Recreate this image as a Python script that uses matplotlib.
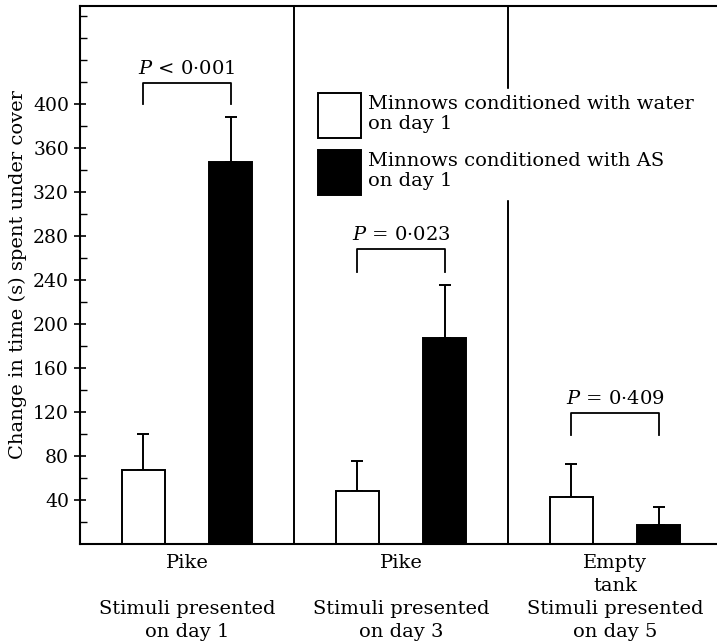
import numpy as np
import matplotlib
matplotlib.use("Agg")
import matplotlib.pyplot as plt

plt.rcParams['font.family'] = ['DejaVu Serif']
plt.rcParams['mathtext.fontset'] = 'dejavuserif'

# data
groups = ["Pike\n\nStimuli presented\non day 1",
          "Pike\n\nStimuli presented\non day 3",
          "Empty\ntank\nStimuli presented\non day 5"]
water_mean = [67, 48, 43]
water_se = [33, 27, 30]
as_mean = [347, 187, 17]
as_se = [41, 48, 17]
p_labels = ["$P$ < 0·001", "$P$ = 0·023", "$P$ = 0·409"]
bracket_top = [419, 268, 119]
bracket_leg = [400, 247, 99]

fig = plt.figure(figsize=(7.17, 6.44), dpi=100)
ax = fig.add_axes([80/717, 100/644, 642/717, 538/644])

x = np.arange(len(groups))
off = 0.205
w = 0.2
b1 = ax.bar(x - off, water_mean, w, color='white', edgecolor='black', lw=1.4,
            label="Minnows conditioned with water\non day 1", zorder=2)
b2 = ax.bar(x + off, as_mean, w, color='black', edgecolor='black', lw=1.4,
            label="Minnows conditioned with AS\non day 1", zorder=2)
ax.errorbar(x - off, water_mean, yerr=[np.zeros(3), water_se], fmt='none',
            ecolor='black', elinewidth=1.4, capsize=4, capthick=1.4, zorder=1)
ax.errorbar(x + off, as_mean, yerr=[np.zeros(3), as_se], fmt='none',
            ecolor='black', elinewidth=1.4, capsize=4, capthick=1.4, zorder=1)

# significance brackets
for i in range(len(groups)):
    xl, xr = x[i] - off, x[i] + off
    ax.plot([xl, xl, xr, xr], [bracket_leg[i], bracket_top[i], bracket_top[i], bracket_leg[i]],
            color='black', lw=1.3)
    ax.text(x[i], bracket_top[i] + 5, p_labels[i], ha='center', va='bottom', fontsize=14)

for d in [0.5, 1.5]:
    ax.axvline(d, color='black', lw=1.4, zorder=0)

ax.set_xlim(-0.5, 2.5)
ax.set_ylim(0, 489)
ax.set_yticks(np.arange(40, 401, 40))
ax.set_yticks(np.arange(20, 481, 20), minor=True)
ax.tick_params(axis='y', which='major', direction='inout', length=9, width=1.2, labelsize=13.5)
ax.tick_params(axis='y', which='minor', direction='in', length=5, width=1)
ax.set_xticks(x)
ax.set_xticklabels(groups, fontsize=14, linespacing=1.36)
ax.tick_params(axis='x', length=0, pad=7)
for s in ax.spines.values():
    s.set_linewidth(1.5)
ax.set_ylabel("Change in time (s) spent under cover", fontsize=14)
ax.yaxis.set_label_coords(-0.082, 0.5)

leg = ax.legend(handles=[b1, b2], loc='upper left',
                bbox_to_anchor=(314/717, 1 - 89/644), bbox_transform=fig.transFigure,
                frameon=True, fancybox=False, edgecolor='white', framealpha=1,
                fontsize=14, handlelength=2.2, handleheight=3.2, handletextpad=0.4,
                labelspacing=0.6, borderpad=0.2, borderaxespad=0)
leg.set_zorder(5)

fig.savefig("out.png", dpi=100)
